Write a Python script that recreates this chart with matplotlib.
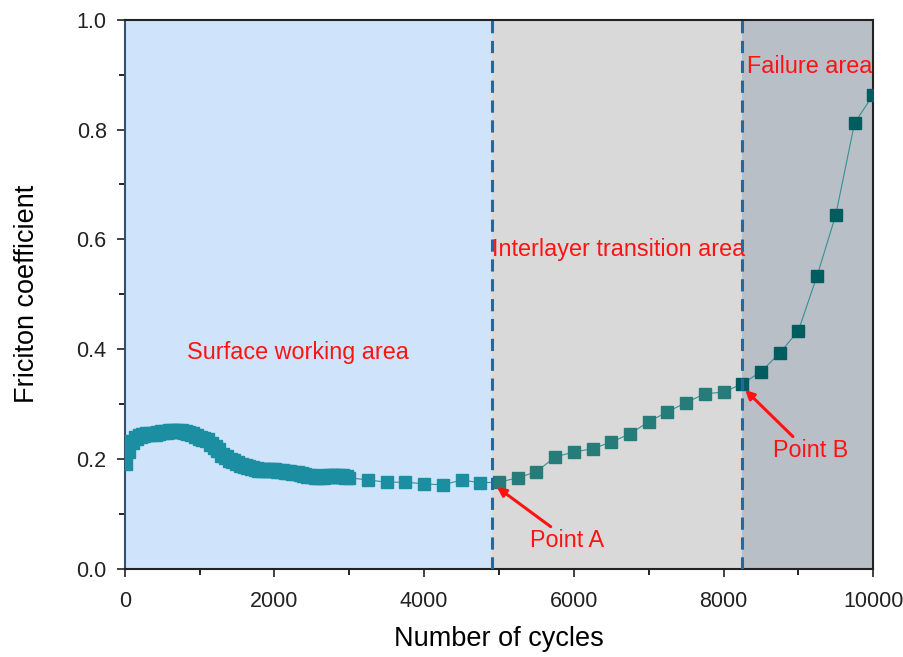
import numpy as np
import matplotlib
matplotlib.use("Agg")
import matplotlib.pyplot as plt

plt.rcParams['font.family'] = ['Liberation Sans', 'DejaVu Sans']

# dense part, every 50 cycles
cycles_dense = list(range(0, 3000, 50))
mu_dense = [0.193, 0.215, 0.232, 0.238, 0.242, 0.244, 0.245, 0.246, 0.246, 0.248,
            0.249, 0.250, 0.251, 0.252, 0.252, 0.251, 0.250, 0.248, 0.245, 0.242,
            0.239, 0.237, 0.234, 0.228, 0.222, 0.217, 0.207, 0.203, 0.199, 0.196,
            0.193, 0.190, 0.188, 0.186, 0.183, 0.182, 0.181, 0.180, 0.180, 0.181,
            0.180, 0.179, 0.178, 0.177, 0.176, 0.175, 0.174, 0.172, 0.171, 0.170,
            0.169, 0.168, 0.168, 0.168, 0.169, 0.170, 0.170, 0.169, 0.169, 0.168]

# sparse part, every 250 cycles
cycles_sparse = list(range(3000, 10001, 250))
mu_sparse = [0.166, 0.162, 0.158, 0.158, 0.155, 0.153, 0.162, 0.157, 0.158, 0.166,
             0.177, 0.204, 0.213, 0.219, 0.231, 0.246, 0.268, 0.286, 0.303, 0.319,
             0.322, 0.337, 0.359, 0.393, 0.434, 0.534, 0.645, 0.812, 0.863]

cycles = np.array(cycles_dense + cycles_sparse)
mu = np.array(mu_dense + mu_sparse)

point_a = 4900
point_b = 8250

fig = plt.figure(figsize=(9.04, 6.57), dpi=100)
ax = fig.add_axes([0.138, 0.134, 0.828, 0.836])

# shaded regions
ax.axvspan(0, point_a, color='#cfe4fa', zorder=0, lw=0)
ax.axvspan(point_a, point_b, color='#d9d9d9', zorder=0, lw=0)
ax.axvspan(point_b, 10000, color='#b8bfc7', zorder=0, lw=0)

ax.plot(cycles, mu, '-', color='#3a8f92', lw=0.8, zorder=2)

cols = np.where(cycles < point_a, '#1b8ea1',
                np.where(cycles < point_b - 10, '#267c79', '#005d5f'))
for c in ['#1b8ea1', '#267c79', '#005d5f']:
    m = cols == c
    ax.plot(cycles[m], mu[m], 's', ms=9, color=c, mec=c, zorder=3)
# the dense run looks a bit thicker in the original
ax.plot(cycles_dense, mu_dense, 's', ms=10, color='#1b8ea1', mec='#1b8ea1', zorder=3)

for xv in [point_a, point_b]:
    ax.axvline(xv, color='#1f6aa5', lw=2.2, ls=(0, (4, 2.5)), zorder=4)

red = '#ff1212'
fs = 16.8
ax.text(829, 0.395, 'Surface working area', color=red, fontsize=fs, va='center')
ax.text(4906, 0.581, 'Interlayer transition area', color=red, fontsize=fs, va='center')
ax.text(8316, 0.914, 'Failure area', color=red, fontsize=fs, va='center')
ax.annotate('Point A', xy=(4973, 0.149), xytext=(5414, 0.051), color=red, fontsize=fs,
            va='center', ha='left',
            arrowprops=dict(arrowstyle='-|>', color=red, lw=2.2, mutation_scale=13,
                            shrinkA=0, shrinkB=0, relpos=(0.33, 1.0)))
ax.annotate('Point B', xy=(8289, 0.326), xytext=(8663, 0.215), color=red, fontsize=fs,
            va='center', ha='left',
            arrowprops=dict(arrowstyle='-|>', color=red, lw=2.2, mutation_scale=13,
                            shrinkA=0, shrinkB=0, relpos=(0.3, 1.0)))

ax.set_xlim(0, 10000)
ax.set_ylim(0, 1.0)
ax.set_xticks(range(0, 10001, 2000))
ax.set_xticks(range(1000, 10000, 2000), minor=True)
ax.set_yticks([0.0, 0.2, 0.4, 0.6, 0.8, 1.0])
ax.set_yticklabels(['0.0', '0.2', '0.4', '0.6', '0.8', '1.0'])
ax.set_yticks([0.1, 0.3, 0.5, 0.7, 0.9], minor=True)
ax.tick_params(which='major', direction='out', length=6, width=1.2, labelsize=15.5,
               colors='#222222', pad=7)
ax.tick_params(axis='x', which='major', pad=10)
ax.tick_params(which='minor', direction='out', length=4, width=1.2)

for s in ax.spines.values():
    s.set_linewidth(1.5)
    s.set_color('#222222')
ax.spines['left'].set_color('#34506e')

ax.set_xlabel('Number of cycles', fontsize=19.5, labelpad=10)
ax.set_ylabel('Friciton coefficient', fontsize=19.5, labelpad=26)

fig.savefig('out.png', dpi=100)
